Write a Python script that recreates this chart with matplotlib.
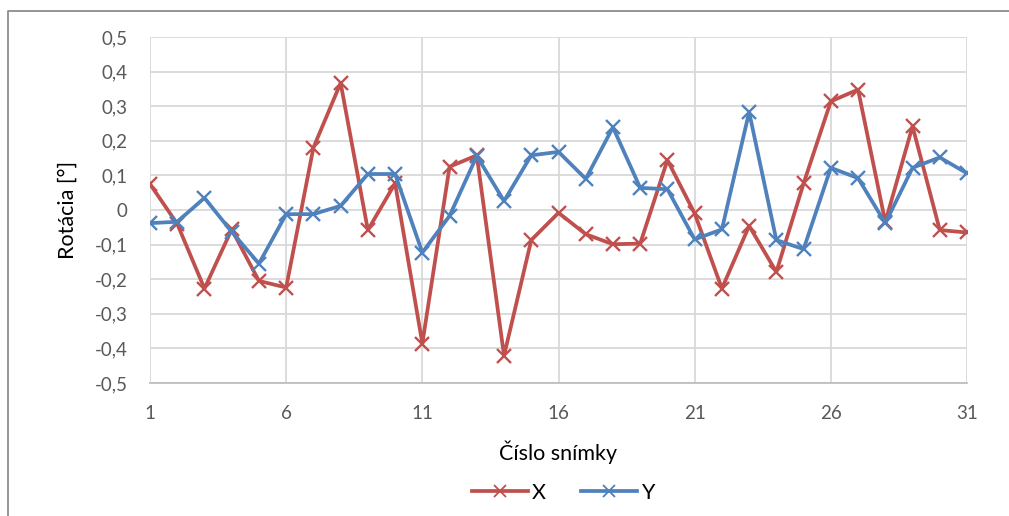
import matplotlib
matplotlib.use("Agg")
import matplotlib.pyplot as plt
from matplotlib.ticker import FuncFormatter, MultipleLocator
from matplotlib.lines import Line2D

########## Data
frames = list(range(1, 32))
rot_x = [0.075, -0.04, -0.227, -0.056, -0.205, -0.224, 0.18, 0.367, -0.058, 0.077,
         -0.386, 0.125, 0.158, -0.421, -0.087, -0.008, -0.07, -0.099, -0.097, 0.144,
         -0.01, -0.227, -0.046, -0.179, 0.077, 0.314, 0.348, -0.035, 0.242, -0.058, -0.065]
rot_y = [-0.038, -0.034, 0.035, -0.063, -0.155, -0.012, -0.012, 0.012, 0.104, 0.104,
         -0.123, -0.017, 0.156, 0.026, 0.158, 0.168, 0.09, 0.239, 0.064, 0.06,
         -0.085, -0.056, 0.283, -0.087, -0.113, 0.122, 0.092, -0.038, 0.122, 0.152, 0.106]

x_ticks = [1, 6, 11, 16, 21, 26, 31]

red = "#C0504D"
blue = "#4F81BD"
grid_col = "#D9D9D9"
text_col = "#595959"

plt.rcParams["font.family"] = ["Lato", "DejaVu Sans"]

########## Figure
fig = plt.figure(figsize=(10.09, 5.16), dpi=100)
ax = fig.add_axes([150 / 1009, 1 - 383 / 516, (967 - 150) / 1009, (383 - 37) / 516])

ax.plot(frames, rot_x, color=red, lw=2.7, marker="x", ms=10, mew=1.7, label="X",
        solid_joinstyle="round", zorder=3)
ax.plot(frames, rot_y, color=blue, lw=2.7, marker="x", ms=10, mew=1.7, label="Y",
        solid_joinstyle="round", zorder=3)

ax.set_xlim(1, 31)
ax.set_ylim(-0.5, 0.5)
ax.set_xticks(x_ticks)
ax.yaxis.set_major_locator(MultipleLocator(0.1))


def comma_fmt(v, pos):
    v = round(v, 1)
    if v == 0:
        return "0"
    return f"{v:.1f}".replace(".", ",")


ax.yaxis.set_major_formatter(FuncFormatter(comma_fmt))

ax.grid(True, color=grid_col, lw=1.3)
ax.set_axisbelow(True)
for s in ["top", "right", "left"]:
    ax.spines[s].set_visible(False)
ax.spines["bottom"].set_color("#BFBFBF")
ax.spines["bottom"].set_linewidth(1.3)
ax.tick_params(length=0, labelsize=13.5, colors=text_col)
ax.tick_params(axis="y", pad=16)
ax.tick_params(axis="x", pad=16)

ax.set_xlabel("Číslo snímky", fontsize=15.5, color="black", labelpad=13)
ax.set_ylabel("Rotácia [°]", fontsize=15.5, color="black", labelpad=12)

########## Legend
handles = [Line2D([], [], color=red, lw=2.7, marker="x", ms=8, mew=1.3),
           Line2D([], [], color=blue, lw=2.7, marker="x", ms=8, mew=1.3)]
fig.legend(handles, ["X", "Y"], loc="center", bbox_to_anchor=(563 / 1009, 1 - 493 / 516),
           ncol=2, frameon=False, fontsize=15.5, handlelength=2.6, handletextpad=0.2,
           columnspacing=1.6)

########## Outer frame (partial, as in the reference)
fig.add_artist(Line2D([8 / 1009, 8 / 1009, 1.0], [0.0, 1 - 11 / 516, 1 - 11 / 516],
                      transform=fig.transFigure, color="#8C8C8C", lw=1.3))

fig.savefig("out.png", dpi=100)
